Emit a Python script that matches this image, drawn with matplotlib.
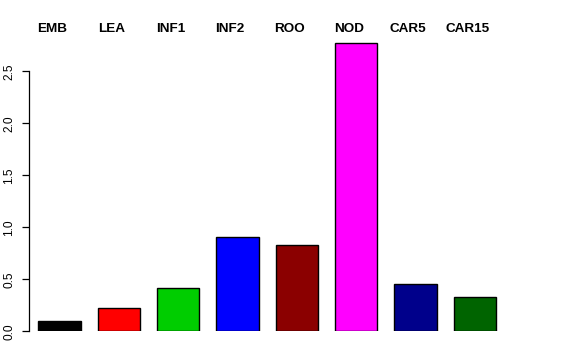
import matplotlib
matplotlib.use("Agg")
import matplotlib.pyplot as plt
from matplotlib.transforms import blended_transform_factory

categories = ["EMB", "LEA", "INF1", "INF2", "ROO", "NOD", "CAR5", "CAR15"]
values = [0.10, 0.224, 0.416, 0.904, 0.83, 2.772, 0.452, 0.327]
colors = ["#000000", "#FF0000", "#00CD00", "#0000FF", "#8B0000", "#FF00FF", "#00008B", "#006400"]
yticks = [0.0, 0.5, 1.0, 1.5, 2.0, 2.5]

plt.rcParams['font.family'] = ['Liberation Sans', 'DejaVu Sans']

W, H = 576, 360
fig = plt.figure(figsize=(W / 100, H / 100), dpi=100)

# axes geometry in pixels
left_px, right_px = 29, 560
bottom_px_from_top, top_px_from_top = 331.3, 40
ax = fig.add_axes([left_px / W, (H - bottom_px_from_top) / H,
                   (right_px - left_px) / W, (bottom_px_from_top - top_px_from_top) / H])

pitch = 1.4
lefts = [0.4 + i * pitch for i in range(len(values))]
centers = [l + 0.5 for l in lefts]
ax.bar(centers, values, width=1.0, color=colors, edgecolor="black", linewidth=1.0)

px_per_unit_x = 42.4
ax.set_xlim(0.4 - (38.3 - left_px) / px_per_unit_x, 0.4 + (right_px - 38.3) / px_per_unit_x)
px_per_unit_y = 104
ax.set_ylim(0, (bottom_px_from_top - top_px_from_top) / px_per_unit_y)

for s in ["top", "right", "bottom"]:
    ax.spines[s].set_visible(False)
ax.spines["left"].set_bounds(0, 2.5)
ax.spines["left"].set_linewidth(0.9)
ax.set_xticks([])
ax.set_yticks(yticks)
ax.set_yticklabels([f"{t:.1f}" for t in yticks], rotation=90, va="center", fontsize=8.6)
ax.tick_params(axis="y", length=5, width=0.9, pad=5)

trans = blended_transform_factory(ax.transData, fig.transFigure)
for c, name in zip(centers, categories):
    ax.text(c - 7.6 / px_per_unit_x, 1 - 29 / H, name, transform=trans, ha="center", va="center",
            fontsize=9.7, fontweight="bold", clip_on=False)

fig.savefig("out.png", dpi=100)
